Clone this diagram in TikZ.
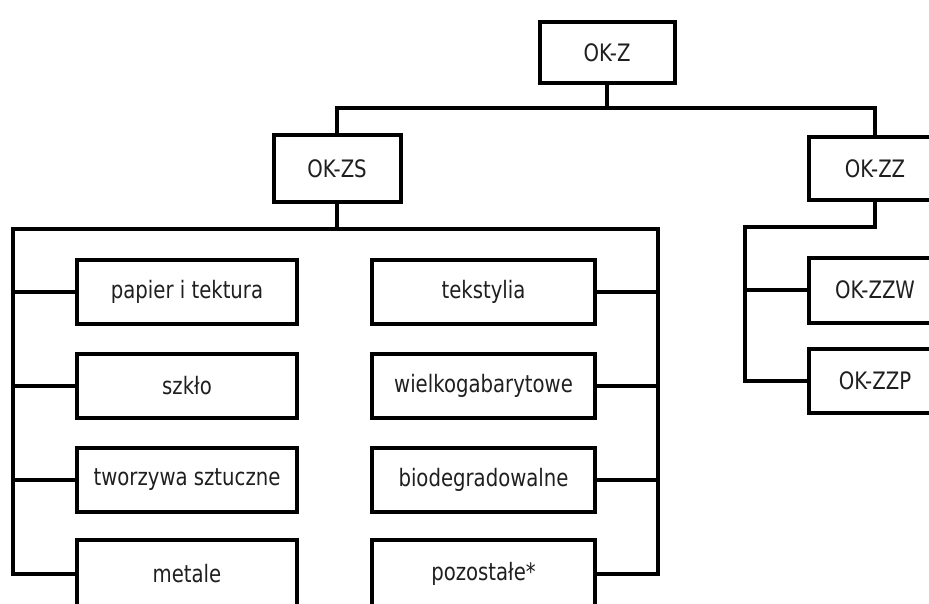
\documentclass[tikz,border=0pt]{standalone}
\usepackage{fontspec}
\setmainfont{DejaVu Sans}[FakeStretch=0.82]
\begin{document}
\begin{tikzpicture}[x=1pt,y=-1pt,
  box/.style={draw=black,line width=4pt,fill=white,inner sep=0pt,
    text=black!88,font=\fontsize{24}{28}\selectfont},
  wire/.style={draw=black,line width=4pt,line join=miter},
  catbox/.style={box,minimum width=220pt,minimum height=64pt},
  catboxr/.style={box,minimum width=223pt,minimum height=64pt},
  zzbox/.style={box,minimum width=132pt,minimum height=64pt}]
\useasboundingbox (0,0) rectangle (929,603);
\fill[white] (0,0) rectangle (929,603);
\clip (0,0) rectangle (929,603);
% top levels
\node[box,minimum width=135pt,minimum height=61pt] (okz) at (607,52.5) {OK-Z};
\node[box,minimum width=127pt,minimum height=67pt] (okzs) at (337,168.5) {OK-ZS};
\node[zzbox,minimum height=63pt] (okzz) at (875,168.5) {OK-ZZ};
% left column
\node[catbox] (l1) at (187,292) {papier i tektura};
\node[catbox] (l2) at (187,386) {szkło};
\node[catbox] (l3) at (187,480) {tworzywa sztuczne};
\node[catbox,minimum height=68pt] (l4) at (187,573.5) {metale};
% right column
\node[catboxr] (r1) at (483.5,292) {tekstylia};
\node[catboxr] (r2) at (483.5,386) {wielkogabarytowe};
\node[catboxr] (r3) at (483.5,480) {biodegradowalne};
\node[catboxr,minimum height=68pt] (r4) at (483.5,573.5) {pozostałe*};
% OK-ZZ children
\node[zzbox,minimum height=65pt] (okzzw) at (875,290) {OK-ZZW};
\node[zzbox] (okzzp) at (875,381) {OK-ZZP};
% bus coordinates
\coordinate (b1) at (607,108);
\coordinate (bl) at (13,229);
\coordinate (br) at (658,229);
\coordinate (zb) at (745,227);
% connectors
\draw[wire] (okz.south) -- (b1);
\draw[wire] (okzs.north) |- (b1) -| (okzz.north);
\draw[wire] (okzs.south) -- (okzs.south |- bl);
\draw[wire] (l4.west) -| (bl) -- (br) |- (r4.east);
\draw[wire] (l1.west) -- (l1.west -| bl);
\draw[wire] (l2.west) -- (l2.west -| bl);
\draw[wire] (l3.west) -- (l3.west -| bl);
\draw[wire] (r1.east) -- (r1.east -| br);
\draw[wire] (r2.east) -- (r2.east -| br);
\draw[wire] (r3.east) -- (r3.east -| br);
\draw[wire] (okzz.south) |- (zb) |- (okzzp.west);
\draw[wire] (okzzw.west) -- (okzzw.west -| zb);
\end{tikzpicture}
\end{document}
